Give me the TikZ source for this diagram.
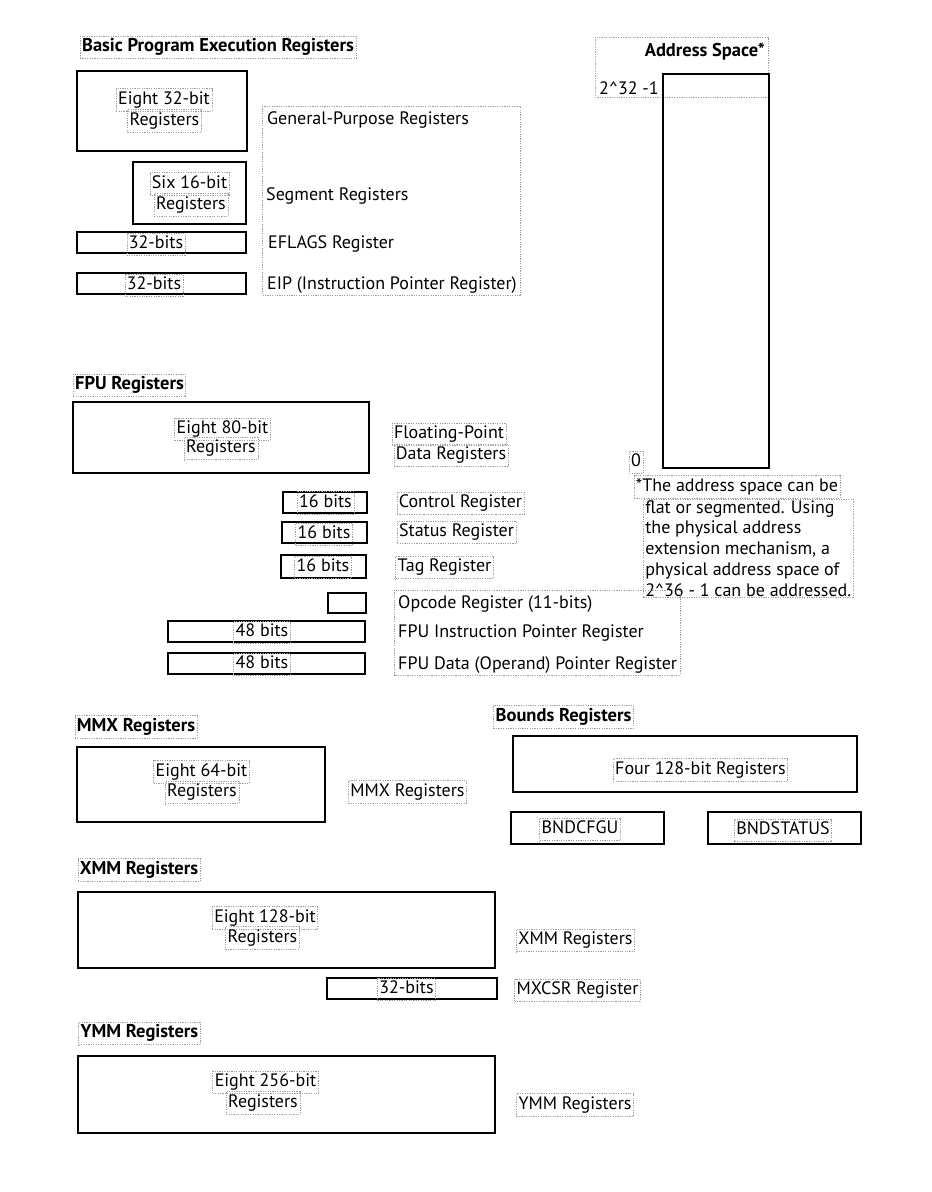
\documentclass[tikz,border=0pt]{standalone}
\usepackage{fontspec}
\setmainfont{PT Sans}
\begin{document}
\begin{tikzpicture}[x=1pt,y=-1pt,
  regbox/.style={draw, line width=1.1pt, inner sep=0pt},
  txt/.style={inner sep=0pt, yshift=-1.8pt, font=\fontsize{18}{20}\selectfont},
  lbl/.style={draw=gray!75, dash pattern=on 1.2pt off 1.2pt, line width=0.6pt,
              inner xsep=2pt, inner ysep=3pt, text height=12.5pt, text depth=4pt,
              yshift=-1.5pt, font=\fontsize{18}{20}\selectfont},
  head/.style={lbl, font=\fontsize{18.5}{20}\selectfont\bfseries},
  area/.style={draw=gray!75, dash pattern=on 1.2pt off 1.2pt, line width=0.6pt}]
\useasboundingbox (0,0) rectangle (932,1192);

% ---------------- Basic program execution registers
\node[head] (hbasic) at (218,46) {Basic Program Execution Registers};
\node[regbox, minimum width=170pt, minimum height=80pt] (gp) at (162,111) {};
\node[lbl] (gpa) at (164,98.5) {Eight 32-bit};
\node[lbl] (gpb) at (164.5,119.5) {Registers};
\node[regbox, minimum width=113pt, minimum height=62pt] (seg) at (189.5,193) {};
\node[lbl] (sega) at (189.5,182.5) {Six 16-bit};
\node[lbl] (segb) at (191,203.5) {Registers};
\node[regbox, minimum width=169pt, minimum height=21pt] (efl) at (161.5,242.5) {};
\node[lbl] (efla) at (156,243) {32-bits};
\node[regbox, minimum width=169pt, minimum height=21pt] (eip) at (161.5,283.5) {};
\node[lbl] (eipa) at (154,284) {32-bits};
\draw[area] (262,106) rectangle (520,295);
\node[txt, anchor=west] (lgp) at (267,118) {General-Purpose Registers};
\node[txt, anchor=west] (lseg) at (266,194) {Segment Registers};
\node[txt, anchor=west] (lefl) at (268,242) {EFLAGS Register};
\node[txt, anchor=west] (leip) at (267,283) {EIP (Instruction Pointer Register)};

% ---------------- Address space
\draw[area] (595,37) rectangle (768,97);
\node[txt, anchor=east, font=\fontsize{18.5}{20}\selectfont\bfseries] (haddr) at (765,50) {Address Space*};
\node[txt, anchor=west] (top) at (599,86) {2\textasciicircum 32 -1};
\node[regbox, minimum width=106pt, minimum height=394pt] (addr) at (716,271) {};
\node[lbl] (zero) at (636,461) {0};
\node[lbl] (note1) at (737,485.5) {*The address space can be};
\node[lbl, anchor=north west, align=left, inner ysep=1pt, text height=, text depth=,
      yshift=0pt, font=\fontsize{18}{20.8}\selectfont] (note2) at (643,497.5)
  {flat or segmented. Using\\the physical address\\extension mechanism, a\\physical address space of\\2\textasciicircum 36 - 1 can be addressed.};

% ---------------- FPU registers
\node[head] (hfpu) at (129.5,384) {FPU Registers};
\node[regbox, minimum width=296pt, minimum height=71pt] (fpu) at (221,437.5) {};
\node[lbl] (fpua) at (222.5,428) {Eight 80-bit};
\node[lbl] (fpub) at (221,447) {Registers};
\node[lbl] (lfpa) at (449,433) {Floating-Point};
\node[lbl] (lfpb) at (451,454) {Data Registers};
\node[regbox, minimum width=84pt, minimum height=21pt] (ctrl) at (325,502.5) {};
\node[lbl] (ctrla) at (325.5,501.5) {16 bits};
\node[lbl] (lctrl) at (460.5,502) {Control Register};
\node[regbox, minimum width=85pt, minimum height=21pt] (stat) at (324.5,532.5) {};
\node[lbl] (stata) at (324,533) {16 bits};
\node[lbl] (lstat) at (456.5,531) {Status Register};
\node[regbox, minimum width=85pt, minimum height=23pt] (tag) at (323.5,566.5) {};
\node[lbl] (taga) at (323,566) {16 bits};
\node[lbl] (ltag) at (444.5,566) {Tag Register};
\node[regbox, minimum width=38pt, minimum height=20pt] (opc) at (347,603) {};
\node[regbox, minimum width=197pt, minimum height=21pt] (fip) at (266.5,631.5) {};
\node[lbl] (fipa) at (262,631) {48 bits};
\node[regbox, minimum width=197pt, minimum height=21pt] (fdp) at (266.5,663.5) {};
\node[lbl] (fdpa) at (262,663) {48 bits};
\draw[area] (394,590) rectangle (680,675);
\node[txt, anchor=west] (lopc) at (398,602) {Opcode Register (11-bits)};
\node[txt, anchor=west] (lfip) at (398,631) {FPU Instruction Pointer Register};
\node[txt, anchor=west] (lfdp) at (398,663) {FPU Data (Operand) Pointer Register};

% ---------------- MMX registers
\node[head] (hmmx) at (136,725.5) {MMX Registers};
\node[regbox, minimum width=248pt, minimum height=75pt] (mmx) at (201,784.5) {};
\node[lbl] (mmxa) at (201.5,770.5) {Eight 64-bit};
\node[lbl] (mmxb) at (202,791) {Registers};
\node[lbl] (lmmx) at (407.5,790.5) {MMX Registers};

% ---------------- Bounds registers
\node[head] (hbnd) at (563.5,715.5) {Bounds Registers};
\node[regbox, minimum width=344pt, minimum height=56pt] (bnd) at (685,764) {};
\node[lbl] (bnda) at (700.5,768.5) {Four 128-bit Registers};
\node[regbox, minimum width=153pt, minimum height=32pt] (cfg) at (587.5,828) {};
\node[lbl] (cfga) at (580,828) {BNDCFGU};
\node[regbox, minimum width=153pt, minimum height=32pt] (bst) at (784.5,828) {};
\node[lbl] (bsta) at (783,829) {BNDSTATUS};

% ---------------- XMM registers
\node[head] (hxmm) at (139,868.5) {XMM Registers};
\node[regbox, minimum width=417pt, minimum height=76pt] (xmm) at (286.5,930) {};
\node[lbl] (xmma) at (265,916.5) {Eight 128-bit};
\node[lbl] (xmmb) at (262.5,936.5) {Registers};
\node[lbl] (lxmm) at (575.5,939) {XMM Registers};
\node[regbox, minimum width=170pt, minimum height=21pt] (mxcsr) at (412,988.5) {};
\node[lbl] (mxcsra) at (406.5,988) {32-bits};
\node[lbl] (lmxcsr) at (577.5,989) {MXCSR Register};

% ---------------- YMM registers
\node[head] (hymm) at (139.5,1032) {YMM Registers};
\node[regbox, minimum width=417pt, minimum height=77pt] (ymm) at (286.5,1094.5) {};
\node[lbl] (ymma) at (265.5,1081) {Eight 256-bit};
\node[lbl] (ymmb) at (263,1101.5) {Registers};
\node[lbl] (lymm) at (575,1103.5) {YMM Registers};
\end{tikzpicture}
\end{document}
